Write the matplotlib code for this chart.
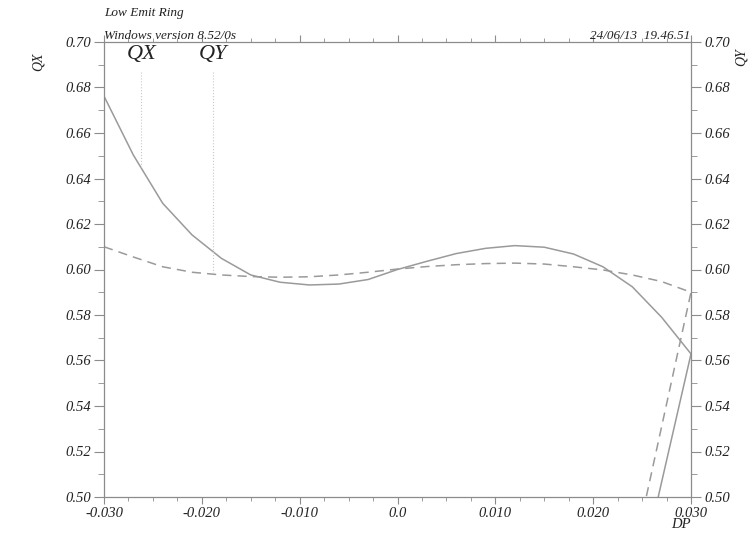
import numpy as np
import matplotlib
matplotlib.use("Agg")
import matplotlib.pyplot as plt
from matplotlib.ticker import MultipleLocator, FixedLocator

plt.rcParams['font.family'] = ['Liberation Serif', 'DejaVu Serif']

dp = [-0.030, -0.027, -0.024, -0.021, -0.018, -0.015, -0.012, -0.009, -0.006, -0.003,
      0.000, 0.003, 0.006, 0.009, 0.012, 0.015, 0.018, 0.021, 0.024, 0.027, 0.030, 0.0]
qx = [0.6762, 0.6503, 0.6291, 0.6152, 0.6049, 0.5976, 0.5944, 0.5932, 0.5936, 0.5956,
      0.6000, 0.6036, 0.6070, 0.6093, 0.6105, 0.6098, 0.6068, 0.6012, 0.5924, 0.5790, 0.5629, 0.0]
qy = [0.6100, 0.6055, 0.6012, 0.5988, 0.5976, 0.5969, 0.5966, 0.5968, 0.5976, 0.5988,
      0.6002, 0.6013, 0.6021, 0.6026, 0.6028, 0.6024, 0.6012, 0.5998, 0.5976, 0.5947, 0.5900, 0.0]

x_ticks = [-0.030, -0.020, -0.010, 0.0, 0.010, 0.020, 0.030]
x_labels = ["-0.030", "-0.020", "-0.010", "0.0", "0.010", "0.020", "0.030"]
y_ticks = [0.50, 0.52, 0.54, 0.56, 0.58, 0.60, 0.62, 0.64, 0.66, 0.68, 0.70]
y_labels = ["%.2f" % v for v in y_ticks]

legend_names = ["QX", "QY"]
legend_dp = [-0.0262, -0.0189]

line_col = "#9a9a9a"
axis_col = "#8c8c8c"
text_col = "#222222"

fig = plt.figure(figsize=(7.5, 5.34), dpi=100)
ax = fig.add_axes([104/750, 37/534, 587/750, 455/534])

ax.plot(dp, qx, color=line_col, lw=1.1, ls='-')
ax.plot(dp, qy, color=line_col, lw=1.1, ls=(0, (6, 4)))

ax.set_xlim(-0.030, 0.030)
ax.set_ylim(0.50, 0.70)

# legend markers
curves = [qx, qy]
for name, xd, yd in zip(legend_names, legend_dp, curves):
    yend = np.interp(xd, dp[:21], yd[:21])
    ax.plot([xd, xd], [0.6868, yend], color="#c8c8c8", lw=0.8, ls=':')
    ax.text(xd, 0.6905, name, ha='center', va='bottom', fontsize=16,
            style='italic', color=text_col)

for s in ax.spines.values():
    s.set_color(axis_col)
    s.set_linewidth(0.9)

ax.xaxis.set_major_locator(FixedLocator(x_ticks))
ax.set_xticklabels(x_labels)
ax.xaxis.set_minor_locator(MultipleLocator(0.0025))
ax.yaxis.set_major_locator(FixedLocator(y_ticks))
ax.set_yticklabels(y_labels)
ax.yaxis.set_minor_locator(MultipleLocator(0.01))

ax.tick_params(axis='x', which='both', direction='out', top=True, bottom=True,
               color=axis_col, labelsize=10.5, labelcolor=text_col, pad=2)
ax.tick_params(axis='x', which='major', length=5)
ax.tick_params(axis='x', which='minor', length=3)
ax.tick_params(axis='y', which='both', direction='out', left=True, right=True,
               labelleft=True, labelright=True,
               color=axis_col, labelsize=10.5, labelcolor=text_col, pad=2.5)
ax.tick_params(axis='y', which='major', length=7)
ax.tick_params(axis='y', which='minor', length=4)
for tick in ax.yaxis.get_major_ticks():
    tick.label2.set_style('italic')
    tick.label1.set_style('italic')
for tick in ax.xaxis.get_major_ticks():
    tick.label1.set_style('italic')

fig.text(104/750, 1 - 13/534, "Low Emit Ring", ha='left', va='center',
         fontsize=9.5, style='italic', color=text_col)
fig.text(104/750, 1 - 39/534, "Windows version 8.52/0s", ha='left', va='baseline',
         fontsize=9.5, style='italic', color=text_col)
fig.text(690/750, 1 - 39/534, "24/06/13  19.46.51", ha='right', va='baseline',
         fontsize=9.5, style='italic', color=text_col)
fig.text(38/750, 1 - 62/534, "QX", ha='center', va='center', rotation=90,
         fontsize=10, style='italic', color=text_col)
fig.text(741/750, 1 - 57/534, "QY", ha='center', va='center', rotation=90,
         fontsize=10, style='italic', color=text_col)
fig.text(681/750, 1 - 525/534, "DP", ha='center', va='center',
         fontsize=10.5, style='italic', color=text_col)

fig.savefig("out.png", dpi=100)
